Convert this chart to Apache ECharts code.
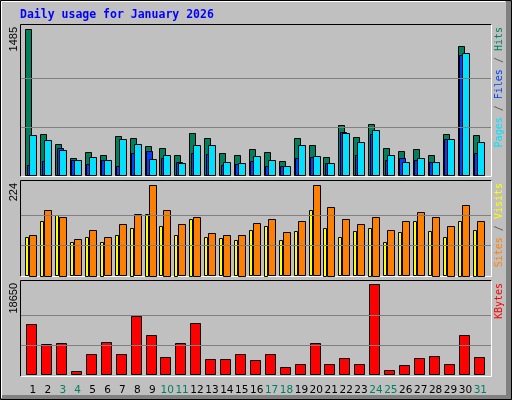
<!DOCTYPE html>
<html><head><meta charset="utf-8">
<script src="https://cdn.jsdelivr.net/npm/echarts@6/dist/echarts.min.js"></script>
<style>html,body{margin:0;padding:0;background:#c0c0c0}#c{width:512px;height:400px}</style>
</head><body><div id="c"></div>
<script>
const days = Array.from({length:31},(_,i)=>String(i+1));
const weekendDays = [3,4,10,11,17,18,24,25,31];
const hits   = [1485,427,326,185,245,215,407,386,306,286,215,437,386,235,215,276,245,155,386,316,195,517,396,527,286,255,276,215,427,1313,417];
const files  = [114,155,286,165,124,165,104,235,255,185,144,235,225,114,124,155,104,104,185,195,134,447,215,427,165,185,165,144,376,1223,235];
const pages  = [417,366,265,165,195,165,376,326,175,215,134,316,316,144,134,205,165,104,316,205,134,437,346,467,215,144,185,144,376,1243,346];
const visits = [102,163,146,90,114,95,127,151,224,163,127,146,105,102,102,129,139,107,134,222,170,139,127,146,112,134,156,146,124,175,136];
const sites  = [95,136,149,83,97,85,100,119,153,122,102,141,95,93,88,112,124,88,110,161,119,95,110,119,83,107,134,110,95,136,114];
const kbytes = [10483,6399,6603,885,4356,6807,4356,12116,8236,3744,6603,10687,3335,3335,4356,3131,4356,1702,2314,6603,2314,3540,2314,18650,1089,2110,3540,3948,2314,8236,3744];
const maxLabels = ['1485','224','18650'];
const gridTop = [495,990], gridMid = [74.7,149.3], gridBot = [6217,12433];

const toData = a => a.map((v,i)=>[i+1,v]);
function bar(x0,x1,color){
  return function(params, api){
    const p = api.coord([api.value(0), api.value(1)]);
    const b = api.coord([api.value(0), 0]);
    return {type:'rect', shape:{x:Math.round(b[0]+x0)+0.5, y:Math.round(p[1])+0.5, width:Math.round(x1-x0)-1, height:Math.round(b[1]-p[1])-1},
      style:{fill:color, stroke:'#000', lineWidth:1}};
  };
}
function gl(vals){
  return {silent:true, symbol:'none', label:{show:false}, lineStyle:{color:'#808080', type:'solid', width:1}, data: vals.map(v=>({yAxis:v}))};
}
const xMin=0.195, xMax=31.72;
const grids = [
  {left:21, width:470, top:25, height:151.5},
  {left:21, width:470, top:181, height:95.3},
  {left:21, width:470, top:281, height:94.7},
  {left:25.5, width:462.3, top:378, height:1}
];
const xAxes = [0,1,2].map(i=>({type:'value', gridIndex:i, min:xMin, max:xMax, show:false}));
xAxes.push({type:'category', gridIndex:3, data:days, axisLine:{show:false}, axisTick:{show:false},
  axisLabel:{interval:0, margin:6, fontFamily:'DejaVu Sans', fontSize:10.5,
    color:(v)=> weekendDays.includes(+v)?'#008060':'#000'}});
const yAxes = [
  {type:'value', gridIndex:0, min:0, max:1528, show:false, splitLine:{show:false}},
  {type:'value', gridIndex:1, min:0, max:232.8, show:false, splitLine:{show:false}},
  {type:'value', gridIndex:2, min:0, max:19321, show:false, splitLine:{show:false}},
  {type:'value', gridIndex:3, show:false}
];
const mk = (data,xi,fn,ml)=>({type:'custom', xAxisIndex:xi, yAxisIndex:xi, data:toData(data), renderItem:fn, encode:{x:0,y:1}, silent:true, markLine:ml});
const series = [
  mk(hits,0,bar(-7.7,-0.3,'#00805c'),gl(gridTop)),
  mk(files,0,bar(-6.3,1,'#0040ff')),
  mk(pages,0,bar(-3.7,4.2,'#00e0ff')),
  mk(sites,1,bar(-7.7,-3.3,'#ffff00'),gl(gridMid)),
  mk(visits,1,bar(-3.7,4.2,'#ff8000')),
  mk(kbytes,2,bar(-6.7,4,'#ff0000'),gl(gridBot)),
  {type:'bar', xAxisIndex:3, yAxisIndex:3, data:[]}
];
function frame(x0,y0,x1,y1){
  return [
    {type:'polyline', shape:{points:[[x0,y1],[x0,y0],[x1,y0]]}, style:{stroke:'#000',lineWidth:1,fill:null}},
    {type:'polyline', shape:{points:[[x1,y0],[x1,y1],[x0,y1]]}, style:{stroke:'#fff',lineWidth:1,fill:null}}
  ];
}
const graphic = [
  {type:'rect', shape:{x:506,y:1,width:6,height:399}, style:{fill:'#808080'}},
  {type:'rect', shape:{x:1,y:395,width:511,height:5}, style:{fill:'#808080'}},
  {type:'polyline', shape:{points:[[1.5,398],[1.5,1.5],[505,1.5]]}, style:{stroke:'#fff',lineWidth:1,fill:null}},
  {type:'rect', shape:{x:0.5,y:0.5,width:511,height:399}, style:{fill:null,stroke:'#000',lineWidth:1}},
  ...frame(20.5,24.5,491.5,176.5), ...frame(20.5,180.5,491.5,276.5), ...frame(20.5,280.5,491.5,376.5),
  {type:'text', x:20, y:9, style:{text:'Daily usage for January 2026', fill:'#0000ff', font:'bold 11.5px "DejaVu Sans Mono"'}},
  {type:'text', x:14, y:27, rotation:Math.PI/2, style:{text:maxLabels[0], fill:'#000', font:'11px "Liberation Sans"', align:'right', verticalAlign:'middle'}},
  {type:'text', x:14, y:183, rotation:Math.PI/2, style:{text:maxLabels[1], fill:'#000', font:'11px "Liberation Sans"', align:'right', verticalAlign:'middle'}},
  {type:'text', x:14, y:283, rotation:Math.PI/2, style:{text:maxLabels[2], fill:'#000', font:'11px "Liberation Sans"', align:'right', verticalAlign:'middle'}},
  {type:'text', x:499, y:27, rotation:Math.PI/2, style:{text:'{p|Pages}{s| / }{f|Files}{s| / }{h|Hits}', align:'right', verticalAlign:'middle', font:'10px "DejaVu Sans Mono"',
    rich:{p:{fill:'#00e0ff',font:'10px "DejaVu Sans Mono"'},f:{fill:'#0040ff',font:'10px "DejaVu Sans Mono"'},h:{fill:'#00805c',font:'10px "DejaVu Sans Mono"'},s:{fill:'#606060',font:'10px "DejaVu Sans Mono"'}}}},
  {type:'text', x:499, y:183, rotation:Math.PI/2, style:{text:'{v|Sites}{s| / }{w|Visits}', align:'right', verticalAlign:'middle', font:'10px "DejaVu Sans Mono"',
    rich:{v:{fill:'#ff8000',font:'10px "DejaVu Sans Mono"'},w:{fill:'#ffff00',font:'10px "DejaVu Sans Mono"'},s:{fill:'#606060',font:'10px "DejaVu Sans Mono"'}}}},
  {type:'text', x:499, y:283, rotation:Math.PI/2, style:{text:'KBytes', fill:'#ff0000', align:'right', verticalAlign:'middle', font:'10px "DejaVu Sans Mono"'}}
];
const chart = echarts.init(document.getElementById('c'));
chart.setOption({backgroundColor:'#c0c0c0', animation:false, grid:grids, xAxis:xAxes, yAxis:yAxes, series, graphic});
</script></body></html>
